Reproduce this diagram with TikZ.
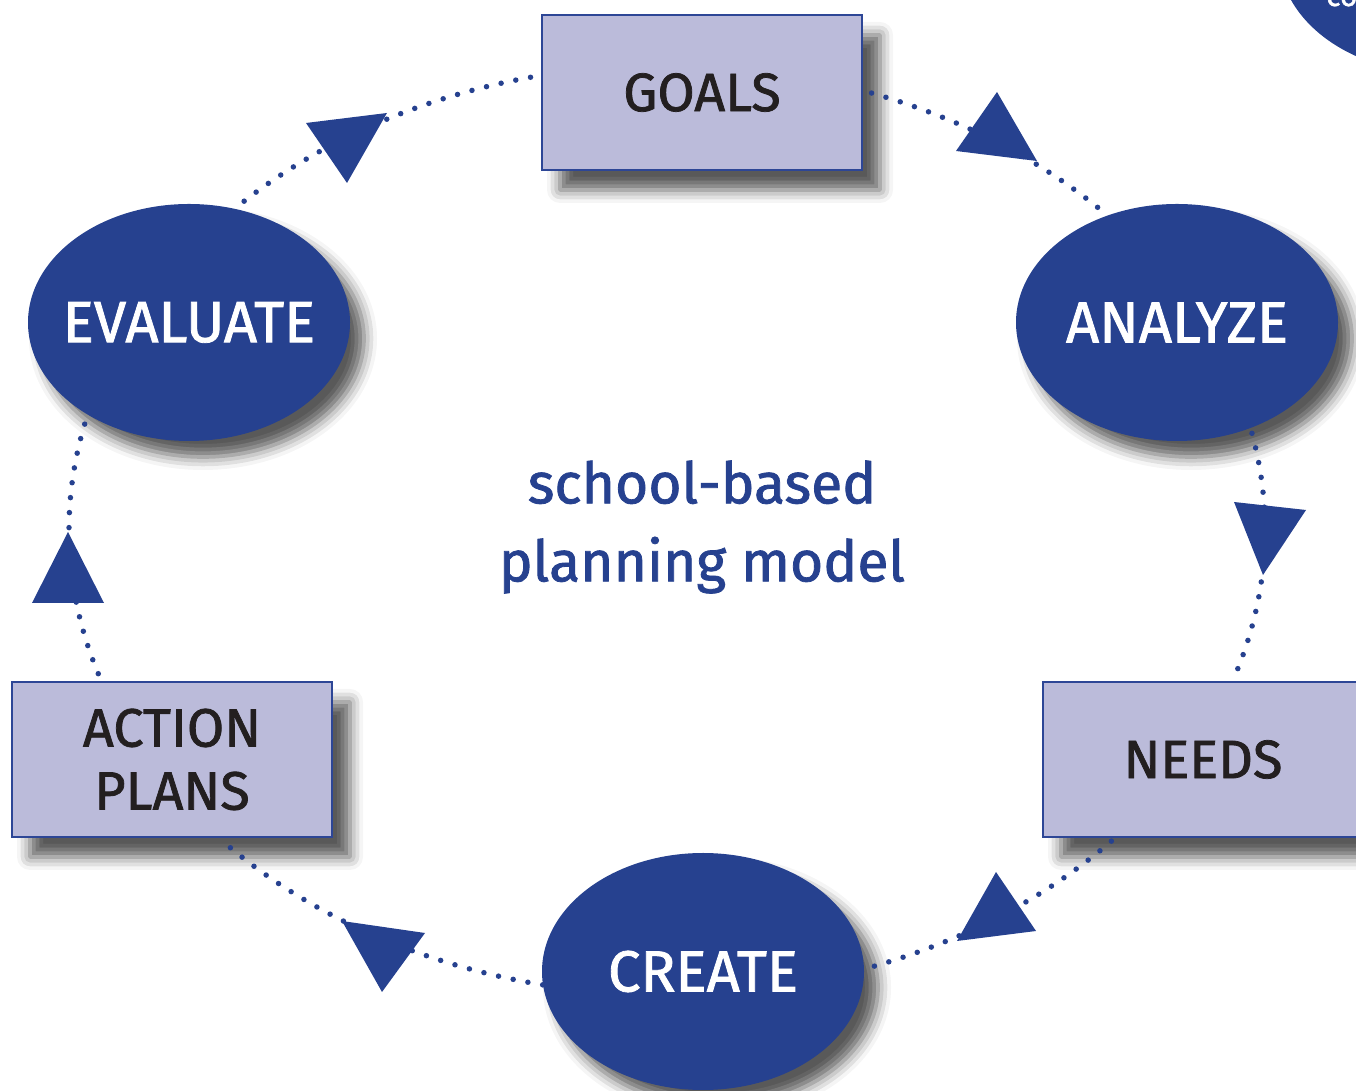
\documentclass[tikz,border=0pt]{standalone}
\usepackage{fontspec}
\setmainfont[FakeBold=1.4]{Fira Sans}
\usetikzlibrary{shapes.geometric,shadows.blur}
\definecolor{navy}{RGB}{38,65,143}
\definecolor{lav}{RGB}{187,187,218}
\definecolor{rectedge}{RGB}{45,70,150}
\definecolor{ink}{RGB}{35,31,32}
\newcommand{\ovaltext}[1]{\makebox[0pt]{#1}}
\begin{document}
\begin{tikzpicture}[x=1pt,y=1pt,
  boxnode/.style={draw=rectedge, line width=2.5pt, fill=lav, minimum width=320pt, minimum height=155pt,
    font=\fontsize{54}{63}\selectfont, text=ink, align=center, inner sep=0pt,
    blur shadow={shadow xshift=18pt, shadow yshift=-20pt, shadow blur radius=13pt, shadow opacity=65}},
  ovalnode/.style={ellipse, fill=navy, minimum width=322pt, minimum height=237pt, inner sep=0pt,
    text=white, font=\fontsize{58}{60}\selectfont},
  ovalshadow/.style={blur shadow={shadow xshift=14pt, shadow yshift=-16pt, shadow blur radius=13pt, shadow opacity=65}},
  ring/.style={navy, line width=5.5pt, line cap=round, dash pattern=on 0pt off 15pt},
  tipfill/.style={fill=navy}]
\useasboundingbox (0,0) rectangle (1356,1091);
\clip (0,0) rectangle (1356,1091);

% top-right partial node
\node[ovalnode] (corner) at (1440,1136) {};
\node[text=white, font=\fontsize{30}{36}\selectfont, anchor=base west, inner sep=0pt] (cotext) at (1326,1085) {co};

% nodes
\node[boxnode] (goals) at (702,998.5) {GOALS};
\node[ovalnode, ovalshadow] (analyze) at (1177,768.5) {\ovaltext{ANALYZE}};
\node[boxnode] (needs) at (1203,331.5) {NEEDS};
\node[ovalnode, ovalshadow] (create) at (703,119.5) {\ovaltext{CREATE}};
\node[boxnode] (action) at (172,331.5) {ACTION\\PLANS};
\node[ovalnode, ovalshadow] (evaluate) at (189,768.5) {\ovaltext{EVALUATE}};

\node[text=navy, font=\fontsize{57}{78}\selectfont, align=center] (title) at (702,564) {school-based\\planning model};

% ring connectors (ellipse centre (667,561), radii 598 and 465)
\coordinate (c0) at (667,561);
\coordinate (g1) at ([shift={(c0)}]70:598 and 465);
\coordinate (a1) at ([shift={(c0)}]12:598 and 465);
\coordinate (n1) at ([shift={(c0)}]-42:598 and 465);
\coordinate (r1) at ([shift={(c0)}]-102:598 and 465);
\coordinate (p1) at ([shift={(c0)}]-162:598 and 465);
\coordinate (e1) at ([shift={(c0)}]135:598 and 465);
\draw[ring] (g1) arc[start angle=70, end angle=43, x radius=598, y radius=465];
\draw[ring] (a1) arc[start angle=12, end angle=-18, x radius=598, y radius=465];
\draw[ring] (n1) arc[start angle=-42, end angle=-70, x radius=598, y radius=465];
\draw[ring] (r1) arc[start angle=-102, end angle=-138, x radius=598, y radius=465];
\draw[ring] (p1) arc[start angle=-162, end angle=-194, x radius=598, y radius=465];
\draw[ring] (e1) arc[start angle=135, end angle=102, x radius=598, y radius=465];

% arrow triangles
\fill[tipfill] (997,999) -- (956,940) -- (1037,930) -- cycle;
\fill[tipfill] (1234,589) -- (1306,581) -- (1263,516) -- cycle;
\fill[tipfill] (996,219) -- (957,150) -- (1036,160) -- cycle;
\fill[tipfill] (342,170) -- (425,158) -- (382,99) -- cycle;
\fill[tipfill] (32,488) -- (104,488) -- (68,559) -- cycle;
\fill[tipfill] (306,968) -- (387,978) -- (347,908) -- cycle;
\end{tikzpicture}
\end{document}
